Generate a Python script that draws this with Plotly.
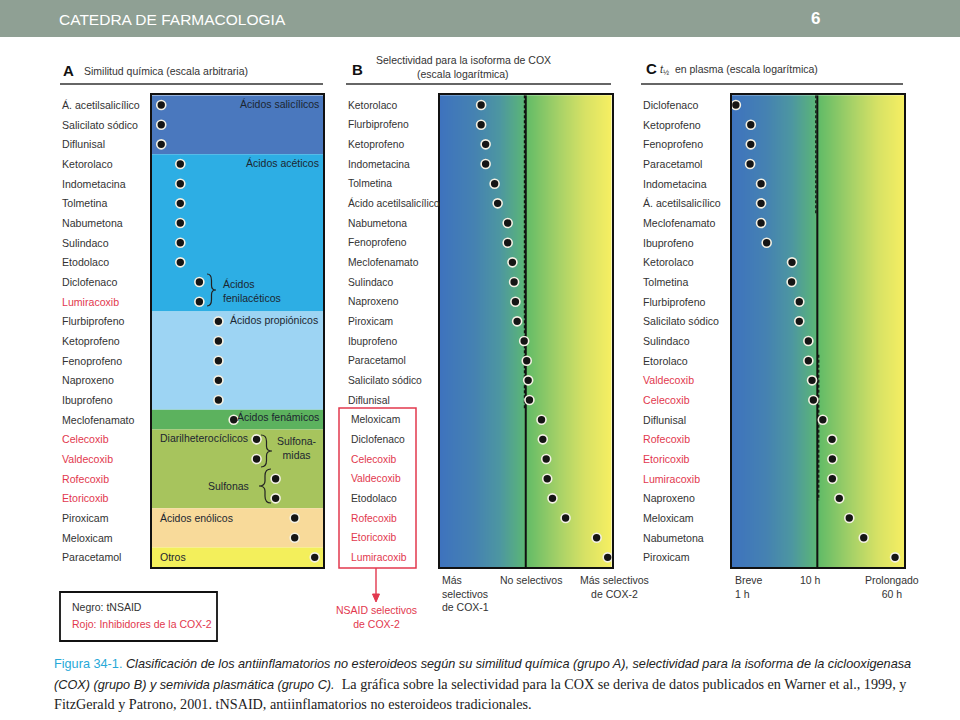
import numpy as np
import plotly.graph_objects as go

W, H = 960, 720


def px(x):
    return x / W


def py(y):
    return 1 - y / H


# ---------------- DATA ----------------
a_drugs = ["Á. acetilsalicílico", "Salicilato sódico", "Diflunisal", "Ketorolaco",
           "Indometacina", "Tolmetina", "Nabumetona", "Sulindaco", "Etodolaco",
           "Diclofenaco", "Lumiracoxib", "Flurbiprofeno", "Ketoprofeno", "Fenoprofeno",
           "Naproxeno", "Ibuprofeno", "Meclofenamato", "Celecoxib", "Valdecoxib",
           "Rofecoxib", "Etoricoxib", "Piroxicam", "Meloxicam", "Paracetamol"]
a_similarity = [0.5, 0.5, 0.5, 1.5, 1.5, 1.5, 1.5, 1.5, 1.5, 2.5, 2.5, 3.5, 3.5, 3.5,
                3.5, 3.5, 4.3, 5.5, 5.5, 6.5, 6.5, 7.5, 7.5, 8.55]
a_group_names = ["Ácidos salicílicos", "Ácidos acéticos", "Ácidos propiónicos",
                 "Ácidos fenámicos", "Diarilheterocíclicos", "Ácidos enólicos", "Otros"]
a_group_first = [0, 3, 11, 16, 17, 21, 23]
a_group_last = [2, 10, 15, 16, 20, 22, 23]
a_group_colors = ["#4a78be", "#2daee4", "#9dd4f3", "#5cb25e", "#a7c45d", "#f8da9a", "#f3ef5b"]

b_drugs = ["Ketorolaco", "Flurbiprofeno", "Ketoprofeno", "Indometacina", "Tolmetina",
           "Ácido acetilsalicílico", "Nabumetona", "Fenoprofeno", "Meclofenamato",
           "Sulindaco", "Naproxeno", "Piroxicam", "Ibuprofeno", "Paracetamol",
           "Salicilato sódico", "Diflunisal", "Meloxicam", "Diclofenaco", "Celecoxib",
           "Valdecoxib", "Etodolaco", "Rofecoxib", "Etoricoxib", "Lumiracoxib"]
b_selectivity = [0.091, 0.091, 0.116, 0.116, 0.188, 0.221, 0.379, 0.379, 0.489, 0.535,
                 0.574, 0.629, 0.918, 1.055, 1.138, 1.22, 2.33, 2.50, 3.0, 3.17, 4.2,
                 8.5, 45, 81.5]

c_drugs = ["Diclofenaco", "Ketoprofeno", "Fenoprofeno", "Paracetamol", "Indometacina",
           "Á. acetilsalicílico", "Meclofenamato", "Ibuprofeno", "Ketorolaco", "Tolmetina",
           "Flurbiprofeno", "Salicilato sódico", "Sulindaco", "Etorolaco", "Valdecoxib",
           "Celecoxib", "Diflunisal", "Rofecoxib", "Etoricoxib", "Lumiracoxib",
           "Naproxeno", "Meloxicam", "Nabumetona", "Piroxicam"]
c_halflife_h = [1.11, 1.66, 1.66, 1.63, 2.19, 2.19, 2.19, 2.55, 5.05, 5.0, 6.15, 6.15,
                7.85, 7.85, 8.67, 8.98, 11.6, 14.9, 15.0, 15.0, 18.1, 23.7, 35, 81.5]

cox2_inhibitors = ["Celecoxib", "Valdecoxib", "Rofecoxib", "Etoricoxib", "Lumiracoxib"]

# ---------------- STYLE ----------------
FONT = "Liberation Sans, Arial, sans-serif"
SERIF = "Liberation Serif, Times New Roman, serif"
TXT = "#333333"
RED = "#e2384e"
GRAD = [[0.0, "#3e73be"], [0.2, "#4582b2"], [0.35, "#4d97a1"], [0.49, "#5bb577"],
        [0.51, "#64bc67"], [0.7, "#a8d267"], [0.85, "#d8e265"], [1.0, "#f6ef62"]]

Y_TOP, Y_BOT = 95.2, 567.2
N = len(a_drugs)

fig = go.Figure()

# gradient backgrounds (B and C)
nb = 172
fig.add_trace(go.Heatmap(x=np.logspace(-2, 2, nb), y=[0, N - 1],
                         z=[np.linspace(0, 1, nb)] * 2, colorscale=GRAD, showscale=False,
                         hoverinfo="skip", xaxis="x2", yaxis="y2"))
fig.add_trace(go.Heatmap(x=np.logspace(0, 2.016, nb), y=[0, N - 1],
                         z=[np.linspace(0, 1, nb)] * 2, colorscale=GRAD, showscale=False,
                         hoverinfo="skip", xaxis="x3", yaxis="y3"))

# reference lines
fig.add_trace(go.Scatter(x=[1, 1], y=[-0.5, N - 0.5], mode="lines",
                         line=dict(color="#111", width=2), xaxis="x2", yaxis="y2",
                         hoverinfo="skip", showlegend=False))
fig.add_trace(go.Scatter(x=[0.93, 0.93], y=[-0.5, 15.5], mode="lines",
                         line=dict(color="#111", width=1.2, dash="3px,2px"), xaxis="x2",
                         yaxis="y2", hoverinfo="skip", showlegend=False))
fig.add_trace(go.Scatter(x=[10, 10], y=[-0.5, N - 0.5], mode="lines",
                         line=dict(color="#111", width=2), xaxis="x3", yaxis="y3",
                         hoverinfo="skip", showlegend=False))
fig.add_trace(go.Scatter(x=[9.6, 9.6], y=[-0.5, 5.5], mode="lines",
                         line=dict(color="#111", width=1.2, dash="3px,2px"), xaxis="x3",
                         yaxis="y3", hoverinfo="skip", showlegend=False))
fig.add_trace(go.Scatter(x=[10.4, 10.4], y=[12.7, 20.1], mode="lines",
                         line=dict(color="#111", width=1.2, dash="3px,2px"), xaxis="x3",
                         yaxis="y3", hoverinfo="skip", showlegend=False))

marker = dict(size=9, color="#151515", line=dict(color="#f4f1e4", width=1.6))
for xs, ax, ay in [(a_similarity, "x", "y"), (b_selectivity, "x2", "y2"),
                   (c_halflife_h, "x3", "y3")]:
    fig.add_trace(go.Scatter(x=xs, y=list(range(N)), mode="markers", marker=marker,
                             xaxis=ax, yaxis=ay, cliponaxis=False, hoverinfo="skip",
                             showlegend=False))

shapes = []
ann = []


def txt(x, y, s, size=10.5, color=TXT, anchor="left", family=FONT, **kw):
    ann.append(dict(x=px(x), y=py(y), xref="paper", yref="paper", text=s,
                    showarrow=False, xanchor=anchor, yanchor="middle", align=anchor,
                    font=dict(size=size, color=color, family=family), **kw))


def rect(x0, y0, x1, y1, fill=None, color="#111", width=1.5, layer="above"):
    shapes.append(dict(type="rect", xref="paper", yref="paper", x0=px(x0), x1=px(x1),
                       y0=py(y1), y1=py(y0), fillcolor=fill or "rgba(0,0,0,0)",
                       line=dict(color=color, width=width), layer=layer))


def line(x0, y0, x1, y1, color="#333", width=1.5):
    shapes.append(dict(type="line", xref="paper", yref="paper", x0=px(x0), x1=px(x1),
                       y0=py(y0), y1=py(y1), line=dict(color=color, width=width)))


def pt(x, y):
    return f"{px(x):.5f},{py(y):.5f}"


def brace(xb, y0, y1, w, d=1):
    xm = xb + d * w / 2
    xt = xb + d * w
    ym = (y0 + y1) / 2
    h = y1 - y0
    path = (f"M{pt(xb, y0)} Q{pt(xm, y0)} {pt(xm, y0 + 0.2 * h)} L{pt(xm, ym - 0.15 * h)} "
            f"Q{pt(xm, ym)} {pt(xt, ym)} Q{pt(xm, ym)} {pt(xm, ym + 0.15 * h)} "
            f"L{pt(xm, y1 - 0.2 * h)} Q{pt(xm, y1)} {pt(xb, y1)}")
    shapes.append(dict(type="path", xref="paper", yref="paper", path=path,
                       line=dict(color="#222", width=1.2)))


# Panel A bands
for name, f, l, col in zip(a_group_names, a_group_first, a_group_last, a_group_colors):
    shapes.append(dict(type="rect", xref="x domain", yref="y", x0=0, x1=1,
                       y0=f - 0.5, y1=l + 0.5, fillcolor=col, line=dict(width=0),
                       layer="below"))

# row labels
for drugs, xa, yref, fs in [(a_drugs, 60, "y", 10.6), (b_drugs, 346, "y2", 10.3),
                            (c_drugs, 641, "y3", 10.6)]:
    for i, d in enumerate(drugs):
        xx = xa
        if yref == "y2" and i >= 16:
            xx = 349
        ann.append(dict(x=px(xx), xref="paper", y=i, yref=yref, text=d, showarrow=False,
                        xanchor="left", yanchor="middle",
                        font=dict(size=fs, family=FONT,
                                  color=RED if d in cox2_inhibitors else TXT)))

# header bar
rect(0, 0, 960, 37, fill="#8fa094", color="#8fa094", width=0, layer="below")
txt(57, 19, "CATEDRA DE FARMACOLOGIA", size=15.5, color="white")
txt(815, 18, "<b>6</b>", size=17, color="white", anchor="center")

# panel headers
txt(61, 71, "<b>A</b>", size=15, color="#111")
txt(82, 71, "Similitud química (escala arbitraria)", size=10.5)
line(60, 84, 323, 84)
txt(350, 70, "<b>B</b>", size=15, color="#111")
txt(463, 60, "Selectividad para la isoforma de COX", size=10.5, anchor="center")
txt(463, 74, "(escala logarítmica)", size=10.5, anchor="center")
line(346, 84, 611, 84)
txt(644, 68, "<b>C</b>", size=15, color="#111")
txt(658, 70, "<i>t</i><sub>½</sub>  en plasma (escala logarítmica)", size=10.5)
line(641, 84, 903, 84)

# panel A group labels
GL = "#1c2630"
txt(321, 104, "Ácidos salicílicos", color=GL, anchor="right")
txt(321, 163, "Ácidos acéticos", color=GL, anchor="right")
txt(221, 291, "Ácidos<br>fenilacéticos", color=GL)
txt(228, 320, "Ácidos propiónicos", color=GL)
txt(321, 417, "Ácidos fenámicos", color=GL, anchor="right")
txt(158, 438, "Diarilheterocíclicos", color=GL)
txt(297, 448, "Sulfona-<br>midas", color=GL, anchor="center")
txt(251, 486, "Sulfonas", color=GL, anchor="right")
txt(158, 518, "Ácidos enólicos", color=GL)
txt(158, 557, "Otros", color=GL)
brace(207, 274, 306, 9, 1)
brace(261, 435, 467, 11, 1)
brace(271, 469, 503, 12, -1)

# legend box
rect(60, 592, 217, 641, color="#111", width=1.8)
txt(70, 607, "Negro: tNSAID", size=10.5, color=TXT)
txt(70, 624, "Rojo: Inhibidores de la COX-2", size=10.5, color=RED)

# red box in B + arrow
rect(339, 408, 416, 568, color=RED, width=1.5)
line(376, 568, 376, 596, color=RED, width=1.4)
shapes.append(dict(type="path", xref="paper", yref="paper",
                   path=f"M{pt(372.5, 594)} L{pt(379.5, 594)} L{pt(376, 602)} Z",
                   fillcolor=RED, line=dict(color=RED, width=1)))
txt(376, 617, "NSAID selectivos<br>de COX-2", size=10.5, color=RED, anchor="center")

# axis end labels
txt(440, 593.5, "Más<br>selectivos<br>de COX-1", size=10.5)
txt(498, 580, "No selectivos", size=10.5)
txt(614, 587, "Más selectivos<br>de COX-2", size=10.5, anchor="center")
txt(733, 587, "Breve<br>1 h", size=10.5)
txt(798, 580, "10 h", size=10.5)
txt(892, 587, "Prolongado<br>60 h", size=10.5, anchor="center")

# caption
CY = "#27a9d8"
txt(52, 664, f"<span style='color:{CY}'>Figura 34-1.</span> <i>Clasificación de los "
    "antiinflamatorios no esteroideos según su similitud química (grupo A), selectividad "
    "para la isoforma de la ciclooxigenasa</i>", size=12.7, color="#222")
txt(52, 684, "<i>(COX) (grupo B) y semivida plasmática (grupo C).</i>  "
    "<span style='font-family:Liberation Serif;font-size:14.2px'>La gráfica sobre la "
    "selectividad para la COX se deriva de datos publicados en Warner et al., 1999, y"
    "</span>", size=12.7, color="#222")
txt(52, 704, "FitzGerald y Patrono, 2001. tNSAID, antiinflamatorios no esteroideos "
    "tradicionales.", size=14.2, color="#222", family=SERIF)

ydom = [py(Y_BOT), py(Y_TOP)]
axcommon = dict(showgrid=False, zeroline=False, showticklabels=False, ticks="",
                showline=True, mirror=True, linewidth=2, linecolor="#111")
fig.update_layout(
    width=W, height=H, margin=dict(l=0, r=0, t=0, b=0),
    paper_bgcolor="white", plot_bgcolor="white", showlegend=False,
    xaxis=dict(domain=[px(151.7), px(323.3)], range=[0, 9], anchor="y", **axcommon),
    yaxis=dict(domain=ydom, range=[N - 0.5, -0.5], anchor="x", **axcommon),
    xaxis2=dict(domain=[px(440), px(611.5)], type="log", range=[-2, 2], anchor="y2",
                **axcommon),
    yaxis2=dict(domain=ydom, range=[N - 0.5, -0.5], anchor="x2", **axcommon),
    xaxis3=dict(domain=[px(732), px(904)], type="log", range=[0, 2.016], anchor="y3",
                **axcommon),
    yaxis3=dict(domain=ydom, range=[N - 0.5, -0.5], anchor="x3", **axcommon),
    shapes=shapes, annotations=ann,
)

fig.write_html("out.html", config={"displayModeBar": False},
               post_script="document.body.style.margin='0px';")
